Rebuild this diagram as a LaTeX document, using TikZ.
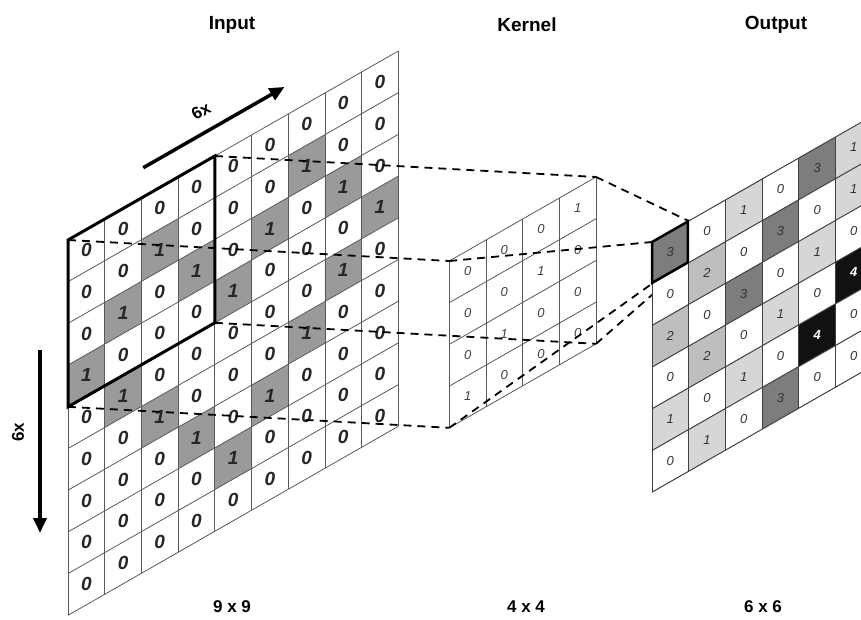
\documentclass[tikz,border=0pt]{standalone}
\usepackage{fontspec}
\setmainfont{Liberation Sans}
\usetikzlibrary{arrows.meta}
\definecolor{oneGray}{HTML}{9A9A9A}
\definecolor{lowGray}{HTML}{D6D6D6}
\definecolor{midGray}{HTML}{BEBEBE}
\definecolor{darkGray}{HTML}{7D7D7D}
\definecolor{topBlack}{HTML}{111111}
\tikzset{
  title/.style={font=\fontsize{19}{21}\selectfont\bfseries},
  dims/.style={font=\fontsize{17}{19}\selectfont\bfseries},
  innum/.style={font=\fontsize{19}{21}\selectfont\bfseries\itshape, text=black!85},
  knum/.style={font=\fontsize{13}{15}\selectfont\itshape, text=black!75},
  onum/.style={font=\fontsize{13}{15}\selectfont\itshape, text=black!80},
  cellline/.style={draw=black!65, line width=0.8pt},
  link/.style={line width=1.8pt, dash pattern=on 8pt off 6pt},
  bigarrow/.style={line width=3.5pt, -{Triangle[length=15pt,width=13pt]}},
  ingrid/.style={cm={36.7,21,0,41.7,(68,240)}},
  kgrid/.style={cm={36.7,21,0,41.7,(449.3,261)}},
  outgrid/.style={cm={36.7,21,0,41.7,(652,242)}}
}
\begin{document}
\begin{tikzpicture}[x=1pt, y=-1pt]
\useasboundingbox (0,0) rectangle (861,619);

\node[title] (tIn) at (232, 25) {Input};
\node[title] (tK) at (527, 25) {Kernel};
\node[title] (tOut) at (776, 25) {Output};
\node[dims] (dIn) at (232, 607) {9 x 9};
\node[dims] (dK) at (526, 607) {4 x 4};
\node[dims] (dOut) at (763, 607) {6 x 6};

\begin{scope}[ingrid]
\foreach \row [count=\r from 0] in {{0,0,0,0,0,0,0,0,0},{0,0,1,0,0,0,1,0,0},{0,1,0,1,0,1,0,1,0},{1,0,0,0,1,0,0,0,1},{0,1,0,0,0,0,0,1,0},{0,0,1,0,0,0,1,0,0},{0,0,0,1,0,1,0,0,0},{0,0,0,0,1,0,0,0,0},{0,0,0,0,0,0,0,0,0}}{
  \foreach \v [count=\c from 0] in \row {
    \ifnum\v=1 \fill[oneGray] (\c,\r) -- (\c+1,\r) -- (\c+1,\r+1) -- (\c,\r+1) -- cycle; \fi
    \node[innum] (I\r\c) at (\c+0.5,\r+0.5) {\v};
  }
}
\foreach \k in {0,...,9} {
  \draw[cellline] (\k,0) -- (\k,9);
  \draw[cellline] (0,\k) -- (9,\k);
}
\draw[line width=3pt] (0,0) -- (4,0) -- (4,4) -- (0,4) -- cycle;
\coordinate (wTL) at (0,0);
\coordinate (wTR) at (4,0);
\coordinate (wBR) at (4,4);
\coordinate (wBL) at (0,4);
\coordinate (aS) at (2.05,-0.7);
\coordinate (aE) at (5.9,-0.7);
\end{scope}

\coordinate (vS) at (40, 350);
\coordinate (vE) at (40, 533);
\draw[bigarrow] (vS) -- (vE);
\node[dims, rotate=90] (vL) at (18, 432) {6x};
\draw[bigarrow] (aS) -- (aE);
\node[dims, rotate=29.8, inner sep=1pt] (hL) at (201, 111) {6x};

\begin{scope}[kgrid]
\foreach \row [count=\r from 0] in {{0,0,0,1},{0,0,1,0},{0,1,0,0},{1,0,0,0}}{
  \foreach \v [count=\c from 0] in \row {
    \fill[white] (\c,\r) -- (\c+1,\r) -- (\c+1,\r+1) -- (\c,\r+1) -- cycle;
    \node[knum] (K\r\c) at (\c+0.5,\r+0.5) {\v};
  }
}
\foreach \k in {0,...,4} {
  \draw[cellline] (\k,0) -- (\k,4);
  \draw[cellline] (0,\k) -- (4,\k);
}
\coordinate (kTL) at (0,0);
\coordinate (kTR) at (4,0);
\coordinate (kBR) at (4,4);
\coordinate (kBL) at (0,4);
\end{scope}

\begin{scope}[outgrid]
\coordinate (oTL) at (0,0);
\coordinate (oTR) at (1,0);
\coordinate (oBR) at (1,1);
\coordinate (oBL) at (0,1);
\end{scope}

\draw[link] (wTL) -- (kTL);
\draw[link] (wTR) -- (kTR);
\draw[link] (wBR) -- (kBR);
\draw[link] (wBL) -- (kBL);
\draw[link] (kTL) -- (oTL);
\draw[link] (kTR) -- (oTR);
\draw[link] (kBR) -- (oBR);
\draw[link] (kBL) -- (oBL);

\begin{scope}[outgrid]
\foreach \row [count=\r from 0] in {{3,0,1,0,3,1},{0,2,0,3,0,1},{2,0,3,0,1,0},{0,2,0,1,0,4},{1,0,1,0,4,0},{0,1,0,3,0,0}}{
  \foreach \v [count=\c from 0] in \row {
    \ifcase\v \def\shade{white}\or \def\shade{lowGray}\or \def\shade{midGray}\or \def\shade{darkGray}\or \def\shade{topBlack}\fi
    \fill[\shade] (\c,\r) -- (\c+1,\r) -- (\c+1,\r+1) -- (\c,\r+1) -- cycle;
    \ifnum\v=4
      \node[onum, text=white, font=\fontsize{13}{15}\selectfont\bfseries\itshape] (O\r\c) at (\c+0.5,\r+0.5) {\v};
    \else
      \node[onum] (O\r\c) at (\c+0.5,\r+0.5) {\v};
    \fi
  }
}
\foreach \k in {0,...,6} {
  \draw[cellline, draw=black!75, line width=1pt] (\k,0) -- (\k,6);
  \draw[cellline, draw=black!75, line width=1pt] (0,\k) -- (6,\k);
}
\draw[line width=2.5pt] (oTL) -- (oTR) -- (oBR) -- (oBL) -- cycle;
\end{scope}
\end{tikzpicture}
\end{document}
